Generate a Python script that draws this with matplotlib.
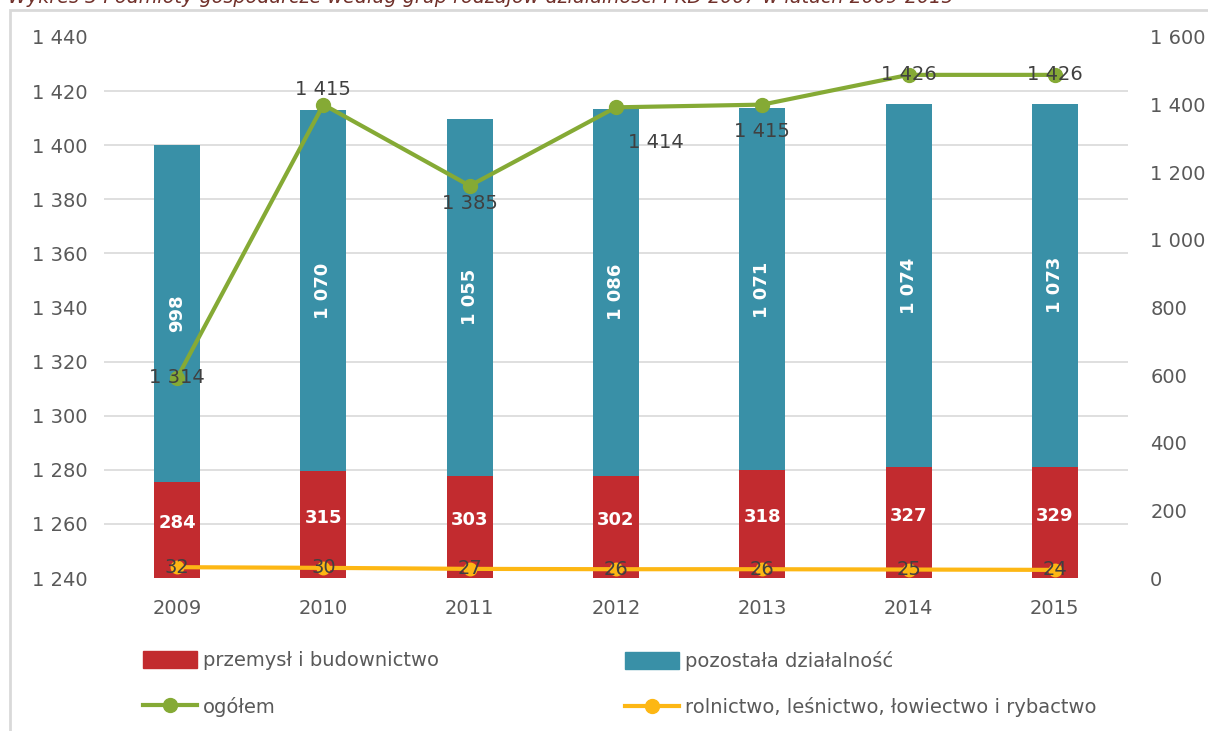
import matplotlib.pyplot as plt
import numpy as np
from matplotlib.patches import Rectangle, Patch
from matplotlib.lines import Line2D

# Data
years = ['2009', '2010', '2011', '2012', '2013', '2014', '2015']
przemysl = [284, 315, 303, 302, 318, 327, 329]
pozostala = [998, 1070, 1055, 1086, 1071, 1074, 1073]
ogolem = [1314, 1415, 1385, 1414, 1415, 1426, 1426]
rolnictwo = [32, 30, 27, 26, 26, 25, 24]

title = 'Wykres 3 Podmioty gospodarcze według grup rodzajów działalności PKD 2007 w latach 2009-2015'

red = '#c22b2f'
blue = '#3990a7'
green = '#85aa35'
yellow = '#fdb714'
grey = '#595959'
dark = '#404040'


def fmt(v):
    return f'{v:,}'.replace(',', ' ')


plt.rcParams['font.family'] = 'DejaVu Sans'

W, H = 1208, 731
fig = plt.figure(figsize=(W / 100, H / 100), dpi=100)
ax = fig.add_axes([104 / W, 1 - 578 / H, (1128 - 104) / W, (578 - 37) / H])
ax2 = ax.twinx()

x = np.arange(len(years))
bw = 0.315

# bars + rolnictwo on the right scale
ax.bar(x, przemysl, width=bw, color=red, zorder=2)
ax.bar(x, pozostala, bottom=przemysl, width=bw, color=blue, zorder=2)
ax.plot(x, rolnictwo, color=yellow, lw=3, marker='o', ms=9, zorder=3)

for xi, p, q in zip(x, przemysl, pozostala):
    ax.text(xi, p / 2 + 20, fmt(p), ha='center', va='center', color='white',
            fontsize=13, fontweight='bold', zorder=4)
    ax.text(xi, p + q / 2, fmt(q), ha='center', va='center', color='white',
            fontsize=13, fontweight='bold', rotation=90, zorder=4)
for xi, r in zip(x, rolnictwo):
    ax.text(xi, r, fmt(r), ha='center', va='center', color=dark,
            fontsize=14, zorder=4)

ax.set_xlim(-0.5, 6.5)
ax.set_ylim(0, 1600)
ax.yaxis.tick_right()
ax.set_yticks(range(0, 1601, 200))
ax.set_yticklabels([fmt(v) for v in range(0, 1601, 200)])
ax.set_yticks(np.linspace(0, 1600, 11), minor=True)
ax.grid(axis='y', which='minor', color='#d9d9d9', lw=1.2)
ax.grid(axis='y', which='major', visible=False)
ax.set_axisbelow(True)
ax.set_xticks(x)
ax.set_xticklabels(years)
ax.tick_params(axis='y', which='both', length=0, pad=16, labelsize=14, labelcolor=grey)
ax.tick_params(axis='x', length=0, pad=15, labelsize=14, labelcolor=grey)

# ogolem on the left scale
ax2.plot(x, ogolem, color=green, lw=3, marker='o', ms=10, zorder=3)
offsets = [(0, 0), (0, 11), (0, -13), (29, -25), (0, -19), (0, 0), (0, 0)]
for xi, v, off in zip(x, ogolem, offsets):
    ax2.annotate(fmt(v), (xi, v), xytext=off, textcoords='offset points',
                 ha='center', va='center', color=dark, fontsize=14, zorder=4)
ax2.set_ylim(1240, 1440)
ax2.yaxis.tick_left()
ax2.set_yticks(range(1240, 1441, 20))
ax2.set_yticklabels([fmt(v) for v in range(1240, 1441, 20)])
ax2.tick_params(axis='y', length=0, pad=12, labelsize=14, labelcolor=grey)

for a in (ax, ax2):
    for s in a.spines.values():
        s.set_visible(False)

# legend (two columns, row-major order)
h_red = Patch(color=red)
h_blue = Patch(color=blue)
h_green = Line2D([], [], color=green, lw=3, marker='o', ms=10)
h_yellow = Line2D([], [], color=yellow, lw=3, marker='o', ms=10)
leg_kw = dict(loc='upper left', frameon=False, fontsize=14, handlelength=2.8,
              handleheight=1.0, handletextpad=0.3, labelspacing=1.35,
              borderpad=0, borderaxespad=0, labelcolor=grey)
fig.legend([h_red, h_green], ['przemysł i budownictwo', 'ogółem'],
           bbox_to_anchor=(143 / W, 1 - 651 / H), **leg_kw)
fig.legend([h_blue, h_yellow], ['pozostała działalność',
                                'rolnictwo, leśnictwo, łowiectwo i rybactwo'],
           bbox_to_anchor=(625 / W, 1 - 651 / H), **leg_kw)

# caption at the top edge (cut off as in the source) and frame
fig.text(8 / W, 1 - 3 / H, title, ha='left', va='baseline', style='italic',
         color='#70302a', fontsize=13.8)
fig.add_artist(Rectangle((10 / W, -0.05), 1.1, 1 - 10 / H + 0.05,
                         transform=fig.transFigure, fill=False,
                         edgecolor='#d9d9d9', lw=2))

fig.savefig('out.png', dpi=100)
